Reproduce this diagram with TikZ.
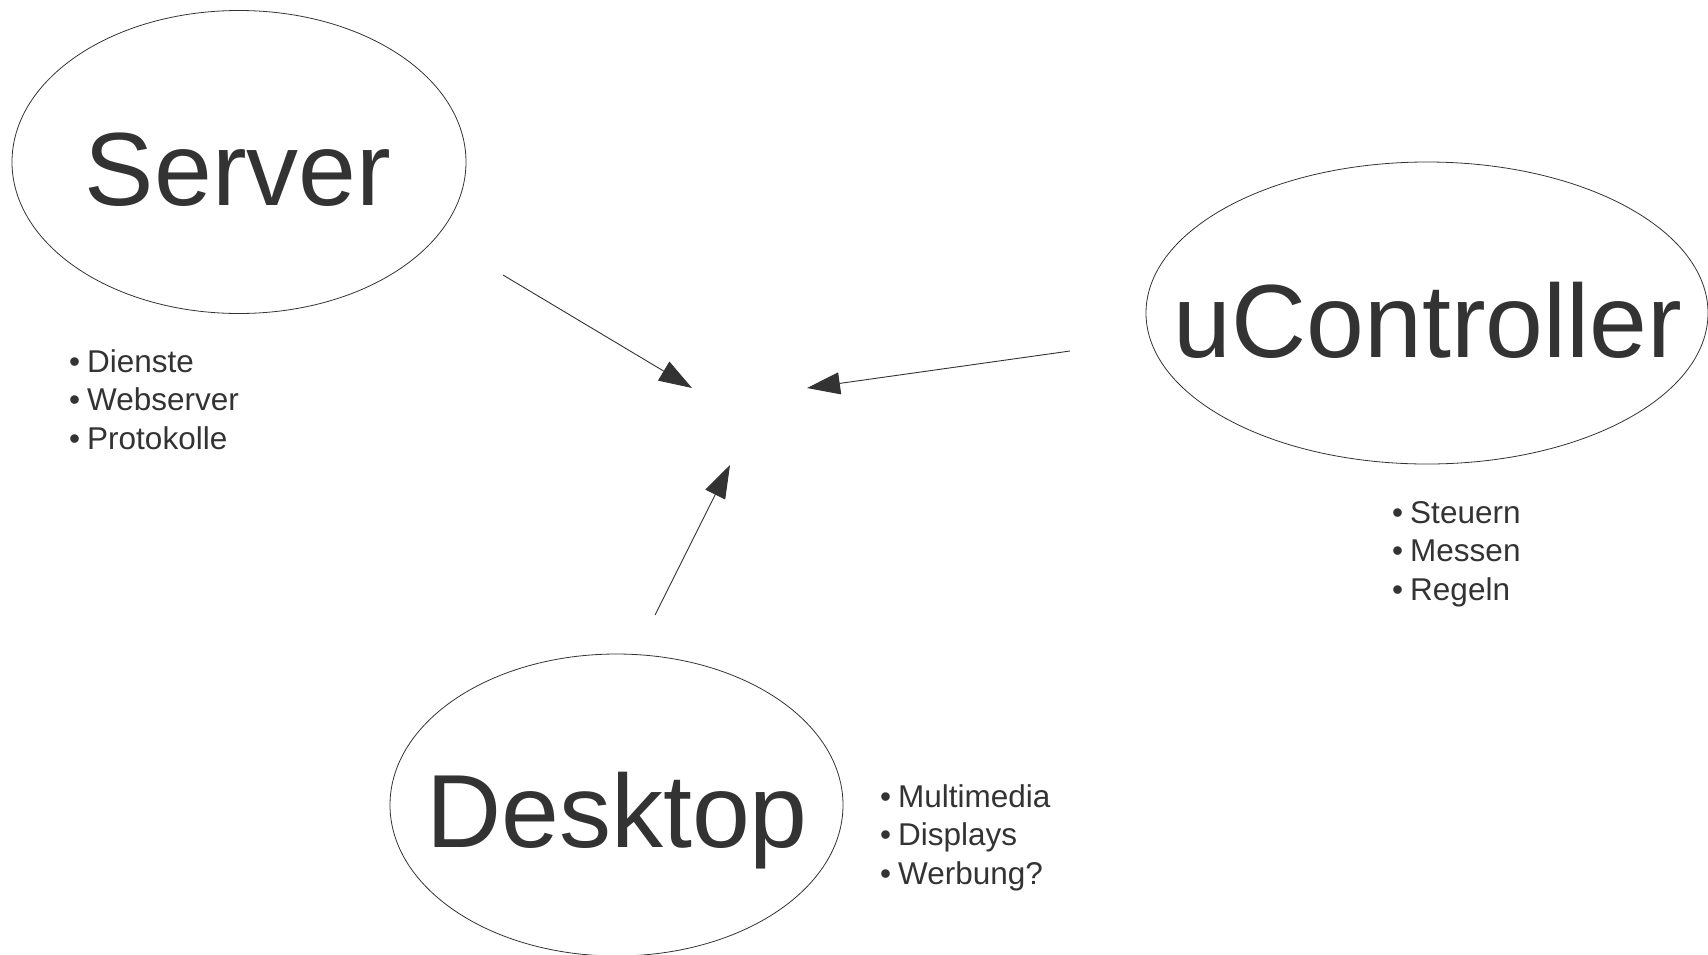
\documentclass[tikz,border=0pt]{standalone}
\usepackage{fontspec}
\setmainfont{Liberation Sans}
\usetikzlibrary{shapes.geometric,arrows.meta}
\definecolor{ink}{HTML}{333333}
\tikzset{
  bubble/.style={ellipse, draw=ink, line width=0.8pt, inner sep=0pt},
  bigtitle/.style={anchor=base, inner sep=0pt, text=ink, font=\fontsize{104}{120}\selectfont},
  bulletlist/.style={anchor=base west, inner sep=0pt, text=ink, font=\fontsize{31.5}{38.5}\selectfont},
  pointer/.style={draw=ink, line width=0.9pt, -{Triangle[length=33pt,width=22pt]}}
}
\newcommand{\blist}[3]{\begin{tabular}[t]{@{}l@{\hspace{7pt}}l@{}}•&#1\\•&#2\\•&#3\end{tabular}}
\begin{document}
\begin{tikzpicture}[x=1pt,y=-1pt]
\useasboundingbox (0,0) rectangle (1708,954);
% ellipses
\node[bubble, minimum width=454pt, minimum height=303pt] (server) at (239,162) {};
\node[bubble, minimum width=562pt, minimum height=302pt] (uc) at (1427,313) {};
\node[bubble, minimum width=453pt, minimum height=302pt] (desktop) at (616.5,805) {};
% titles
\node[bigtitle] (servertitle) at (238,205) {Server};
\node[bigtitle] (uctitle) at (1428,357) {uController};
\node[bigtitle] (desktoptitle) at (617,847) {Desktop};
% lists
\node[bulletlist] (serverlist) at (69,372) {\blist{Dienste}{Webserver}{Protokolle}};
\node[bulletlist] (uclist) at (1392,523) {\blist{Steuern}{Messen}{Regeln}};
\node[bulletlist] (desktoplist) at (880,807) {\blist{Multimedia}{Displays}{Werbung?}};
% arrow ends
\coordinate (s1) at (503,275);
\coordinate (s2) at (692,388);
\coordinate (u1) at (1070,351);
\coordinate (u2) at (807,388);
\coordinate (d1) at (655,615);
\coordinate (d2) at (730,465);
\draw[pointer] (s1) -- (s2);
\draw[pointer] (u1) -- (u2);
\draw[pointer] (d1) -- (d2);
\end{tikzpicture}
\end{document}
